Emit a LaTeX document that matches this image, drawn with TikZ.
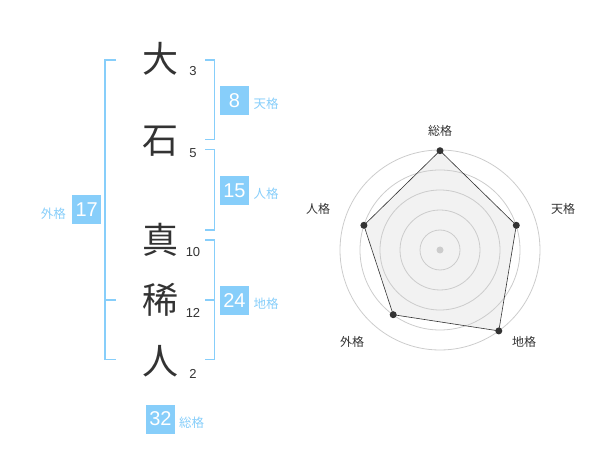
\documentclass[tikz,border=0pt]{standalone}
\usepackage{fontspec}
\setmainfont{Liberation Sans}
\newfontfamily\jpfont{Noto Sans CJK JP}
\usetikzlibrary{positioning}
\definecolor{kakublue}{HTML}{87CEFA}
\definecolor{inkgray}{HTML}{333333}
\definecolor{ringgray}{HTML}{CCCCCC}
\definecolor{fillgray}{HTML}{F2F2F2}

\begin{document}
\begin{tikzpicture}[x=1pt, y=-1pt, node distance=1cm, on grid,
		kanji/.style={inner sep=0pt, font=\jpfont\fontsize{36}{36}\selectfont, text=inkgray},
		stroke/.style={inner sep=0pt, font=\fontsize{13}{13}\selectfont, text=inkgray},
		score/.style={fill=kakublue, text=white, minimum size=29pt, inner sep=0pt, font=\fontsize{20}{20}\selectfont},
		kaku/.style={inner sep=0pt, font=\jpfont\fontsize{12.5}{12.5}\selectfont, text=kakublue},
		axis/.style={inner sep=0pt, font=\jpfont\fontsize{12}{12}\selectfont, text=inkgray},
		bracket/.style={draw=kakublue, line width=1.8pt},
		ring/.style={draw=ringgray, line width=0.8pt},
		vertex/.style={circle, fill=inkgray, inner sep=0pt, minimum size=7pt}]
		\useasboundingbox (0,0) rectangle (600,470);
		% name characters and stroke counts
		\node[kanji] (k1) at (160,59) {大};
		\node[kanji] (k2) [below=82pt of k1] {石};
		\node[kanji] (k3) [below=99pt of k2] {真};
		\node[kanji] (k4) [below=60pt of k3] {稀};
		\node[kanji] (k5) [below=61pt of k4] {人};
		\node[stroke] (n1) [below right=12.5pt and 33pt of k1] {3};
		\node[stroke] (n2) [below right=12.5pt and 33pt of k2] {5};
		\node[stroke] (n3) [below right=12.5pt and 33pt of k3] {10};
		\node[stroke] (n4) [below right=12.5pt and 33pt of k4] {12};
		\node[stroke] (n5) [below right=12.5pt and 33pt of k5] {2};
		% brackets
		\draw[bracket] (116,60) -- (105,60) -- (105,359.5) -- (116,359.5);
		\draw[bracket] (105,300) -- (116,300);
		\draw[bracket] (205,60) -- (214.5,60) -- (214.5,139.5) -- (205,139.5);
		\draw[bracket] (205,149.5) -- (214.5,149.5) -- (214.5,230) -- (205,230);
		\draw[bracket] (205,240) -- (214.5,240) -- (214.5,359.5) -- (205,359.5);
		\draw[bracket] (214.5,300) -- (205,300);
		% scores
		\node[score] (s8) at (234.5,100.5) {8};
		\node[score] (s15) at (234.5,190.5) {15};
		\node[score] (s24) at (234.5,300.5) {24};
		\node[score] (s17) at (86.7,210) {17};
		\node[score] (s32) at (160.5,419) {32};
		\node[kaku] (t8) [below right=3.5pt and 31.5pt of s8] {天格};
		\node[kaku] (t15) [below right=3.5pt and 31.5pt of s15] {人格};
		\node[kaku] (t24) [below right=3.5pt and 31.5pt of s24] {地格};
		\node[kaku] (t17) [below left=3.5pt and 33.4pt of s17] {外格};
		\node[kaku] (t32) [below right=3.5pt and 31.2pt of s32] {総格};
		% radar chart
		\coordinate (c) at (440,250);
		\coordinate (p1) at (440,150.7);
		\coordinate (p2) at (516.3,225.3);
		\coordinate (p3) at (498.8,330.9);
		\coordinate (p4) at (393.2,314.7);
		\coordinate (p5) at (363.9,225.3);
		\fill[fillgray] (p1) -- (p2) -- (p3) -- (p4) -- (p5) -- cycle;
		\draw[ring] (c) circle[radius=20pt] (c) circle[radius=40pt] (c) circle[radius=60pt]
			(c) circle[radius=80pt] (c) circle[radius=100pt];
		\fill[ringgray] (c) circle[radius=3.5pt];
		\draw[inkgray, line width=0.6pt] (p1) -- (p2) -- (p3) -- (p4) -- (p5) -- cycle;
		\node[vertex] (v1) at (p1) {};
		\node[vertex] (v2) at (p2) {};
		\node[vertex] (v3) at (p3) {};
		\node[vertex] (v4) at (p4) {};
		\node[vertex] (v5) at (p5) {};
		\node[axis] (a1) at (440,131) {総格};
		\node[axis] (a2) at (563,209) {天格};
		\node[axis] (a3) at (524,342) {地格};
		\node[axis] (a4) at (352,342) {外格};
		\node[axis] (a5) at (318,209) {人格};
	\end{tikzpicture}
\end{document}
